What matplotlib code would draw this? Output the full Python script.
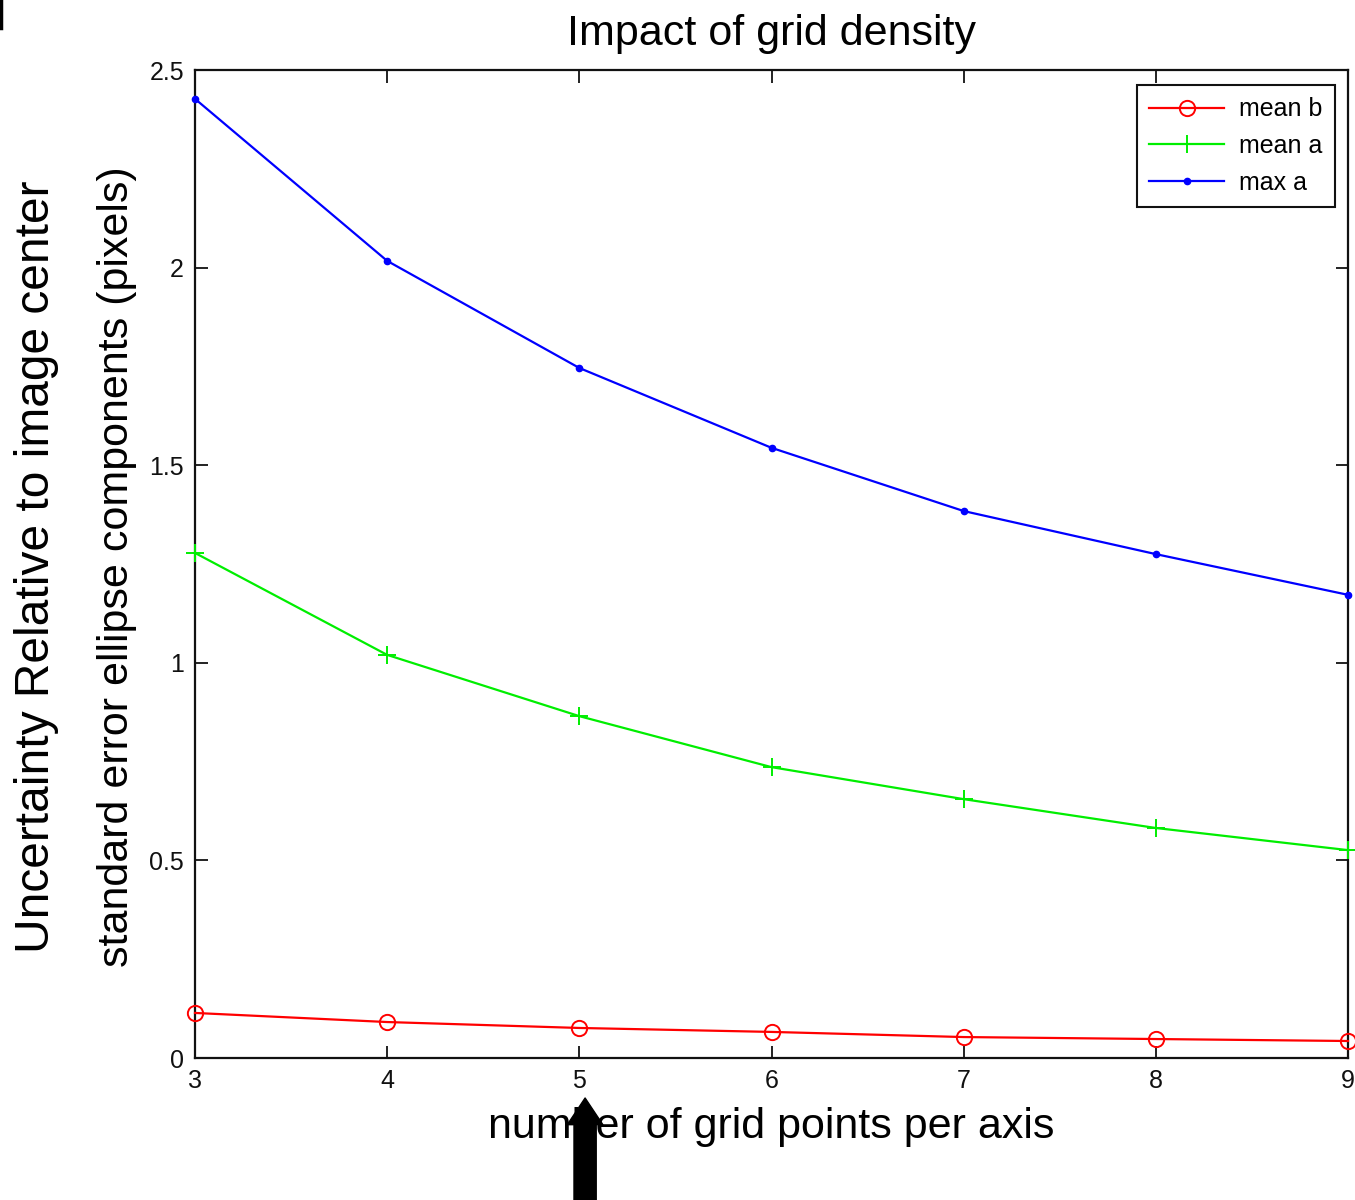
import matplotlib
matplotlib.use("Agg")
import matplotlib.pyplot as plt
from matplotlib.lines import Line2D

plt.rcParams['font.family'] = ['Liberation Sans', 'DejaVu Sans']

grid_points = [3, 4, 5, 6, 7, 8, 9]
mean_b = [0.114, 0.091, 0.076, 0.066, 0.053, 0.048, 0.043]
mean_a = [1.278, 1.020, 0.865, 0.736, 0.655, 0.582, 0.526]
max_a = [2.427, 2.017, 1.746, 1.544, 1.384, 1.275, 1.172]
x_ticks = [3, 4, 5, 6, 7, 8, 9]
y_ticks = [0, 0.5, 1, 1.5, 2, 2.5]
y_tick_labels = ['0', '0.5', '1', '1.5', '2', '2.5']

fig = plt.figure(figsize=(13.55, 12), dpi=100)
ax = fig.add_axes([195/1355, 1 - 1058/1200, (1348 - 195)/1355, (1058 - 70)/1200])

ax.plot(grid_points, mean_b, color='#ff0000', lw=1.6, marker='o', ms=11,
        mfc='none', mec='#ff0000', mew=1.4, label='mean b', clip_on=False, zorder=3)
ax.plot(grid_points, mean_a, color='#00ee00', lw=1.6, marker='+', ms=13,
        mew=1.4, label='mean a', clip_on=False, zorder=3)
ax.plot(grid_points, max_a, color='#0000ff', lw=1.6, marker='.', ms=9,
        label='max a', clip_on=False, zorder=3)

ax.set_xlim(3, 9)
ax.set_ylim(0, 2.5)
ax.set_xticks(x_ticks)
ax.set_yticks(y_ticks)
ax.set_yticklabels(y_tick_labels)
ax.tick_params(direction='in', length=9, width=1.3, top=True, right=True,
               labelsize=18, pad=8, colors='#111111')
for s in ax.spines.values():
    s.set_linewidth(1.6)
    s.set_color('#111111')

ax.set_title('Impact of grid density', fontsize=31, pad=18)
ax.set_xlabel('number of grid points per axis', fontsize=31, labelpad=10)

fig.text(117/1355, 1 - 567/1200, 'standard error ellipse components (pixels)',
         rotation=90, fontsize=31, ha='center', va='center')
fig.text(37/1355, 1 - 567/1200, 'Uncertainty Relative to image center',
         rotation=90, fontsize=34.5, ha='center', va='center')

leg = ax.legend(loc='upper right', bbox_to_anchor=((1335 - 195)/1153, (1058 - 85)/988),
                borderaxespad=0, fancybox=False, framealpha=1, edgecolor='#111111',
                fontsize=18, handlelength=3.0, labelspacing=0.5, borderpad=0.5,
                handletextpad=0.6)
leg.get_frame().set_linewidth(1.5)

ax.annotate('', xy=(5.03, 1 - (1098 - 70)/988), xycoords=('data', 'axes fraction'),
            xytext=(5.03, 1 - (1200 - 70)/988), textcoords=('data', 'axes fraction'),
            arrowprops=dict(arrowstyle='simple,head_width=1.6,head_length=1.2,tail_width=1.0',
                            color='black', mutation_scale=16, shrinkA=0, shrinkB=0))

fig.add_artist(Line2D([1/1355, 1/1355], [1, 1 - 28/1200], color='black', lw=2.5,
                      transform=fig.transFigure))

fig.savefig('out.png', dpi=100)
